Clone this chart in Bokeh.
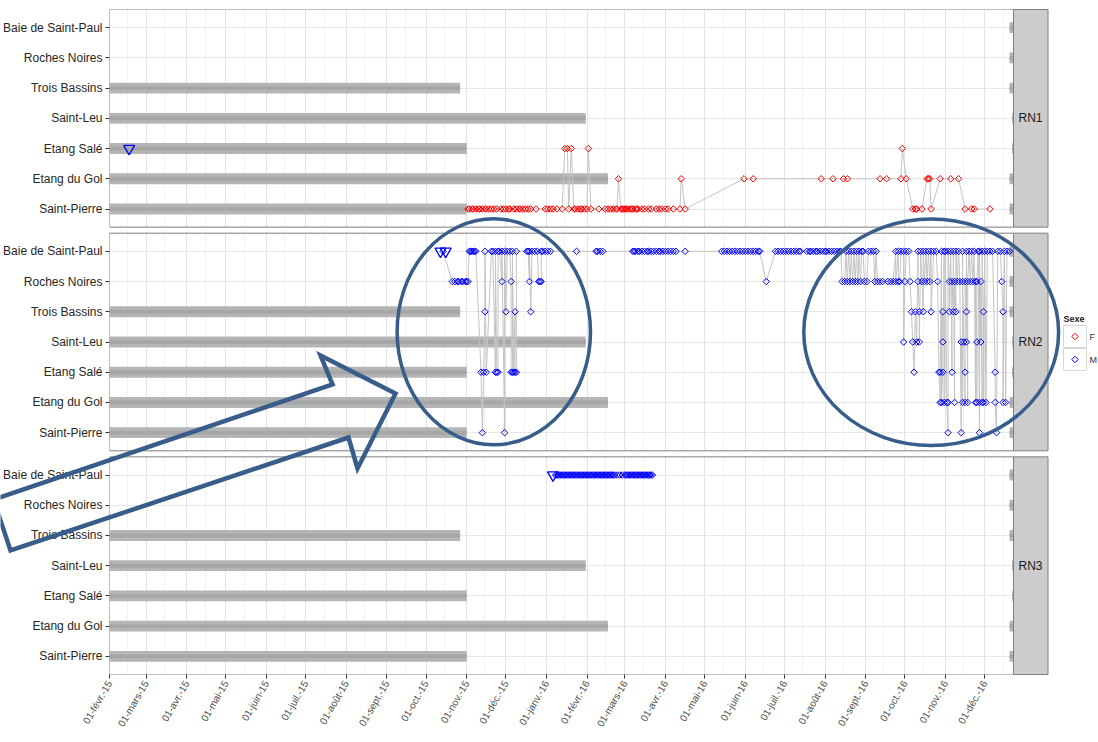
import numpy as np
import pandas as pd
from bokeh.plotting import figure
from bokeh.models import (Range1d, FixedTicker, BoxAnnotation)
from bokeh.core.properties import value
from bokeh.embed import file_html
from bokeh.resources import INLINE

# ---------------- data ----------------
station_codes = ["SP", "EG", "ES", "SL", "TB", "RN", "BSP"]
station_names = ["Saint-Pierre", "Etang du Gol", "Etang Salé", "Saint-Leu",
                 "Trois Bassins", "Roches Noires", "Baie de Saint-Paul"]
panels = ["RN1", "RN2", "RN3"]
sexes = {"RN1": "F", "RN2": "M", "RN3": "M"}
legend_title = "Sexe"
legend_labels = ["F", "M"]

# receiver deployment periods (drawn in every panel)
rcv_site = ["SP", "EG", "ES", "SL", "TB", "BSP", "RN", "TB", "EG", "SP", "SL", "ES"]
rcv_start = ["2015-01-01", "2015-01-01", "2015-01-01", "2015-01-01", "2015-01-01",
             "2016-12-20", "2016-12-20", "2016-12-20", "2016-12-20", "2016-12-20",
             "2016-12-22", "2016-12-22"]
rcv_end = ["2015-11-01", "2016-02-17", "2015-11-01", "2016-01-31", "2015-10-27",
           "2016-12-31", "2016-12-31", "2016-12-31", "2016-12-31", "2016-12-31",
           "2016-12-31", "2016-12-31"]

# tagging events (triangles)
tag_panel = ["RN1", "RN2", "RN2", "RN3"]
tag_site = ["ES", "BSP", "BSP", "BSP"]
tag_date = ["2015-02-16", "2015-10-12", "2015-10-16", "2016-01-06"]

rn1_obs = [
    ("SP", "2015-11-02"), ("SP", "2015-11-03"), ("SP", "2015-11-05"), ("SP", "2015-11-06"),
    ("SP", "2015-11-08"), ("SP", "2015-11-10"), ("SP", "2015-11-11"), ("SP", "2015-11-13"),
    ("SP", "2015-11-15"), ("SP", "2015-11-16"), ("SP", "2015-11-18"), ("SP", "2015-11-20"),
    ("SP", "2015-11-22"), ("SP", "2015-11-24"), ("SP", "2015-11-27"), ("SP", "2015-11-29"),
    ("SP", "2015-12-01"), ("SP", "2015-12-03"), ("SP", "2015-12-04"), ("SP", "2015-12-07"),
    ("SP", "2015-12-09"), ("SP", "2015-12-11"), ("SP", "2015-12-12"), ("SP", "2015-12-14"),
    ("SP", "2015-12-16"), ("SP", "2015-12-18"), ("SP", "2015-12-20"), ("SP", "2015-12-24"),
    ("SP", "2015-12-31"), ("SP", "2016-01-02"), ("SP", "2016-01-04"), ("SP", "2016-01-06"),
    ("SP", "2016-01-09"), ("SP", "2016-01-13"),
    ("ES", "2016-01-15"), ("ES", "2016-01-17"), ("SP", "2016-01-18"), ("ES", "2016-01-20"),
    ("SP", "2016-01-22"), ("SP", "2016-01-23"), ("SP", "2016-01-25"), ("SP", "2016-01-27"),
    ("SP", "2016-01-28"), ("SP", "2016-01-30"), ("SP", "2016-02-01"),
    ("ES", "2016-02-02"),
    ("SP", "2016-02-04"), ("SP", "2016-02-10"),
    ("SP", "2016-02-15"), ("SP", "2016-02-17"), ("SP", "2016-02-19"), ("SP", "2016-02-21"),
    ("SP", "2016-02-23"), ("SP", "2016-02-24"),
    ("EG", "2016-02-25"),
    ("SP", "2016-02-27"), ("SP", "2016-02-28"), ("SP", "2016-02-29"), ("SP", "2016-03-01"),
    ("SP", "2016-03-02"), ("SP", "2016-03-03"), ("SP", "2016-03-05"), ("SP", "2016-03-06"),
    ("SP", "2016-03-07"), ("SP", "2016-03-09"), ("SP", "2016-03-10"), ("SP", "2016-03-11"),
    ("SP", "2016-03-14"), ("SP", "2016-03-16"), ("SP", "2016-03-19"), ("SP", "2016-03-21"),
    ("SP", "2016-03-25"), ("SP", "2016-03-27"), ("SP", "2016-03-29"), ("SP", "2016-04-01"),
    ("SP", "2016-04-03"), ("SP", "2016-04-07"), ("SP", "2016-04-12"),
    ("EG", "2016-04-13"),
    ("SP", "2016-04-16"),
    ("EG", "2016-05-31"), ("EG", "2016-06-07"), ("EG", "2016-07-29"), ("EG", "2016-08-07"),
    ("EG", "2016-08-15"), ("EG", "2016-08-18"), ("EG", "2016-09-12"), ("EG", "2016-09-17"),
    ("EG", "2016-09-28"),
    ("ES", "2016-09-29"),
    ("EG", "2016-10-02"),
    ("SP", "2016-10-07"), ("SP", "2016-10-09"), ("SP", "2016-10-10"), ("SP", "2016-10-14"),
    ("EG", "2016-10-18"), ("EG", "2016-10-19"), ("EG", "2016-10-20"),
    ("SP", "2016-10-21"),
    ("EG", "2016-10-28"), ("EG", "2016-11-05"), ("EG", "2016-11-11"),
    ("SP", "2016-11-16"), ("SP", "2016-11-21"), ("SP", "2016-11-23"), ("SP", "2016-12-05"),
]

rn2_obs = [
    ("BSP", "2015-10-14"),
    ("RN", "2015-10-21"), ("RN", "2015-10-23"), ("RN", "2015-10-25"), ("RN", "2015-10-26"),
    ("RN", "2015-10-28"), ("RN", "2015-10-29"), ("RN", "2015-10-31"), ("RN", "2015-11-01"),
    ("RN", "2015-11-02"),
    ("BSP", "2015-11-03"), ("BSP", "2015-11-04"), ("BSP", "2015-11-05"), ("BSP", "2015-11-06"),
    ("BSP", "2015-11-07"), ("BSP", "2015-11-08"),
    ("ES", "2015-11-12"), ("SP", "2015-11-13"), ("ES", "2015-11-14"), ("TB", "2015-11-15"),
    ("BSP", "2015-11-15"), ("ES", "2015-11-16"),
    ("BSP", "2015-11-20"), ("BSP", "2015-11-21"), ("ES", "2015-11-23"), ("BSP", "2015-11-23"),
    ("ES", "2015-11-24"), ("ES", "2015-11-25"), ("BSP", "2015-11-25"), ("BSP", "2015-11-26"),
    ("RN", "2015-11-28"), ("BSP", "2015-11-28"), ("SP", "2015-11-30"), ("BSP", "2015-11-30"),
    ("TB", "2015-12-01"), ("BSP", "2015-12-02"), ("BSP", "2015-12-04"), ("RN", "2015-12-05"),
    ("ES", "2015-12-05"), ("ES", "2015-12-06"), ("BSP", "2015-12-06"), ("ES", "2015-12-07"),
    ("TB", "2015-12-08"), ("ES", "2015-12-08"), ("ES", "2015-12-09"), ("BSP", "2015-12-09"),
    ("BSP", "2015-12-17"), ("BSP", "2015-12-18"), ("RN", "2015-12-19"), ("BSP", "2015-12-19"),
    ("TB", "2015-12-20"), ("BSP", "2015-12-21"), ("BSP", "2015-12-23"), ("BSP", "2015-12-25"),
    ("RN", "2015-12-26"), ("RN", "2015-12-27"), ("RN", "2015-12-28"), ("BSP", "2015-12-28"),
    ("BSP", "2015-12-29"), ("BSP", "2015-12-31"), ("BSP", "2016-01-02"), ("BSP", "2016-01-04"),
    ("BSP", "2016-01-24"),
    ("BSP", "2016-02-08"), ("BSP", "2016-02-09"), ("BSP", "2016-02-11"), ("BSP", "2016-02-13"),
    ("BSP", "2016-03-07"), ("BSP", "2016-03-08"), ("BSP", "2016-03-09"), ("BSP", "2016-03-11"),
    ("BSP", "2016-03-12"), ("BSP", "2016-03-14"), ("BSP", "2016-03-16"), ("BSP", "2016-03-18"),
    ("BSP", "2016-03-19"), ("BSP", "2016-03-21"), ("BSP", "2016-03-23"), ("BSP", "2016-03-25"),
    ("BSP", "2016-03-27"), ("BSP", "2016-03-28"), ("BSP", "2016-03-30"), ("BSP", "2016-04-01"),
    ("BSP", "2016-04-03"), ("BSP", "2016-04-05"), ("BSP", "2016-04-07"), ("BSP", "2016-04-09"),
    ("BSP", "2016-04-16"),
    ("BSP", "2016-05-14"), ("BSP", "2016-05-16"), ("BSP", "2016-05-18"), ("BSP", "2016-05-20"),
    ("BSP", "2016-05-22"), ("BSP", "2016-05-24"), ("BSP", "2016-05-26"), ("BSP", "2016-05-28"),
    ("BSP", "2016-05-30"), ("BSP", "2016-06-01"), ("BSP", "2016-06-03"), ("BSP", "2016-06-05"),
    ("BSP", "2016-06-07"), ("BSP", "2016-06-09"), ("BSP", "2016-06-11"), ("BSP", "2016-06-12"),
    ("RN", "2016-06-17"),
    ("BSP", "2016-06-24"), ("BSP", "2016-06-26"), ("BSP", "2016-06-28"), ("BSP", "2016-06-30"),
    ("BSP", "2016-07-02"), ("BSP", "2016-07-04"), ("BSP", "2016-07-06"), ("BSP", "2016-07-08"),
    ("BSP", "2016-07-10"), ("BSP", "2016-07-12"), ("BSP", "2016-07-13"),
    ("BSP", "2016-07-18"), ("BSP", "2016-07-20"), ("BSP", "2016-07-21"), ("BSP", "2016-07-23"),
    ("BSP", "2016-07-25"), ("BSP", "2016-07-26"), ("BSP", "2016-07-28"), ("BSP", "2016-07-30"),
    ("BSP", "2016-08-01"), ("BSP", "2016-08-02"), ("BSP", "2016-08-04"), ("BSP", "2016-08-06"),
    ("BSP", "2016-08-08"), ("BSP", "2016-08-10"), ("BSP", "2016-08-12"), ("BSP", "2016-08-13"),
    ("RN", "2016-08-14"), ("RN", "2016-08-16"), ("BSP", "2016-08-17"), ("RN", "2016-08-18"),
    ("BSP", "2016-08-19"), ("RN", "2016-08-20"), ("BSP", "2016-08-21"), ("RN", "2016-08-22"),
    ("BSP", "2016-08-23"), ("RN", "2016-08-24"), ("BSP", "2016-08-25"), ("RN", "2016-08-26"),
    ("BSP", "2016-08-27"), ("RN", "2016-08-28"), ("BSP", "2016-08-29"), ("BSP", "2016-08-30"),
    ("RN", "2016-08-31"), ("RN", "2016-09-02"), ("BSP", "2016-09-03"), ("BSP", "2016-09-05"),
    ("BSP", "2016-09-07"), ("RN", "2016-09-08"), ("BSP", "2016-09-09"), ("RN", "2016-09-10"),
    ("RN", "2016-09-12"), ("RN", "2016-09-14"), ("RN", "2016-09-18"), ("RN", "2016-09-20"),
    ("RN", "2016-09-22"), ("BSP", "2016-09-24"), ("RN", "2016-09-24"), ("BSP", "2016-09-26"),
    ("RN", "2016-09-26"), ("RN", "2016-09-27"), ("BSP", "2016-09-28"), ("BSP", "2016-09-30"),
    ("SL", "2016-09-30"), ("RN", "2016-10-01"), ("BSP", "2016-10-02"), ("BSP", "2016-10-04"),
    ("RN", "2016-10-05"), ("TB", "2016-10-06"), ("SL", "2016-10-07"), ("ES", "2016-10-08"),
    ("TB", "2016-10-09"), ("SL", "2016-10-10"), ("BSP", "2016-10-11"), ("RN", "2016-10-11"),
    ("TB", "2016-10-12"), ("SL", "2016-10-12"), ("BSP", "2016-10-13"), ("RN", "2016-10-14"),
    ("TB", "2016-10-15"), ("BSP", "2016-10-15"), ("RN", "2016-10-16"), ("BSP", "2016-10-17"),
    ("RN", "2016-10-18"), ("BSP", "2016-10-19"), ("RN", "2016-10-20"), ("BSP", "2016-10-21"),
    ("TB", "2016-10-21"), ("BSP", "2016-10-23"), ("BSP", "2016-10-25"), ("RN", "2016-10-26"),
    ("ES", "2016-10-27"), ("EG", "2016-10-28"), ("ES", "2016-10-28"), ("BSP", "2016-10-29"),
    ("EG", "2016-10-29"), ("ES", "2016-10-30"), ("TB", "2016-10-30"), ("SL", "2016-10-30"),
    ("BSP", "2016-10-31"), ("EG", "2016-10-31"), ("BSP", "2016-11-01"), ("EG", "2016-11-02"),
    ("SP", "2016-11-03"), ("EG", "2016-11-03"), ("BSP", "2016-11-03"), ("RN", "2016-11-04"),
    ("TB", "2016-11-04"), ("BSP", "2016-11-05"), ("ES", "2016-11-06"), ("RN", "2016-11-06"),
    ("TB", "2016-11-07"), ("BSP", "2016-11-07"), ("EG", "2016-11-08"), ("RN", "2016-11-08"),
    ("TB", "2016-11-09"), ("BSP", "2016-11-09"), ("RN", "2016-11-10"), ("BSP", "2016-11-11"),
    ("RN", "2016-11-12"), ("SP", "2016-11-13"), ("SL", "2016-11-13"), ("EG", "2016-11-14"),
    ("BSP", "2016-11-14"), ("RN", "2016-11-14"), ("SL", "2016-11-15"), ("EG", "2016-11-16"),
    ("ES", "2016-11-16"), ("RN", "2016-11-16"), ("TB", "2016-11-17"), ("SL", "2016-11-17"),
    ("BSP", "2016-11-17"), ("EG", "2016-11-18"), ("RN", "2016-11-18"), ("BSP", "2016-11-19"),
    ("RN", "2016-11-20"), ("BSP", "2016-11-21"), ("RN", "2016-11-22"), ("BSP", "2016-11-23"),
    ("EG", "2016-11-24"), ("RN", "2016-11-24"), ("SL", "2016-11-25"), ("EG", "2016-11-25"),
    ("RN", "2016-11-25"), ("BSP", "2016-11-26"), ("SP", "2016-11-27"), ("EG", "2016-11-27"),
    ("BSP", "2016-11-27"), ("SL", "2016-11-28"), ("RN", "2016-11-28"), ("EG", "2016-11-29"),
    ("BSP", "2016-11-29"), ("TB", "2016-11-30"), ("EG", "2016-11-30"), ("BSP", "2016-12-01"),
    ("EG", "2016-12-02"), ("BSP", "2016-12-03"), ("BSP", "2016-12-05"), ("BSP", "2016-12-07"),
    ("ES", "2016-12-09"), ("EG", "2016-12-09"), ("SP", "2016-12-10"), ("BSP", "2016-12-11"),
    ("BSP", "2016-12-13"), ("RN", "2016-12-14"), ("TB", "2016-12-15"), ("EG", "2016-12-15"),
    ("BSP", "2016-12-16"), ("EG", "2016-12-17"), ("BSP", "2016-12-18"), ("BSP", "2016-12-20"),
]

rn3_obs = [
    ("BSP", "2016-01-08"), ("BSP", "2016-01-09"), ("BSP", "2016-01-10"), ("BSP", "2016-01-11"),
    ("BSP", "2016-01-12"), ("BSP", "2016-01-13"), ("BSP", "2016-01-14"), ("BSP", "2016-01-15"),
    ("BSP", "2016-01-16"), ("BSP", "2016-01-17"), ("BSP", "2016-01-18"), ("BSP", "2016-01-19"),
    ("BSP", "2016-01-20"), ("BSP", "2016-01-21"), ("BSP", "2016-01-22"), ("BSP", "2016-01-23"),
    ("BSP", "2016-01-24"), ("BSP", "2016-01-25"), ("BSP", "2016-01-26"), ("BSP", "2016-01-27"),
    ("BSP", "2016-01-28"), ("BSP", "2016-01-29"), ("BSP", "2016-01-30"), ("BSP", "2016-01-31"),
    ("BSP", "2016-02-01"), ("BSP", "2016-02-02"), ("BSP", "2016-02-03"), ("BSP", "2016-02-04"),
    ("BSP", "2016-02-05"), ("BSP", "2016-02-06"), ("BSP", "2016-02-07"), ("BSP", "2016-02-08"),
    ("BSP", "2016-02-09"), ("BSP", "2016-02-10"), ("BSP", "2016-02-11"), ("BSP", "2016-02-12"),
    ("BSP", "2016-02-13"), ("BSP", "2016-02-14"), ("BSP", "2016-02-15"), ("BSP", "2016-02-16"),
    ("BSP", "2016-02-17"), ("BSP", "2016-02-18"), ("BSP", "2016-02-19"), ("BSP", "2016-02-20"),
    ("BSP", "2016-02-21"), ("BSP", "2016-02-22"), ("BSP", "2016-02-24"), ("BSP", "2016-02-26"),
    ("BSP", "2016-02-28"), ("BSP", "2016-03-01"), ("BSP", "2016-03-02"), ("BSP", "2016-03-03"),
    ("BSP", "2016-03-04"), ("BSP", "2016-03-05"), ("BSP", "2016-03-06"), ("BSP", "2016-03-07"),
    ("BSP", "2016-03-08"), ("BSP", "2016-03-09"), ("BSP", "2016-03-10"), ("BSP", "2016-03-11"),
    ("BSP", "2016-03-12"), ("BSP", "2016-03-13"), ("BSP", "2016-03-14"), ("BSP", "2016-03-15"),
    ("BSP", "2016-03-16"), ("BSP", "2016-03-17"), ("BSP", "2016-03-18"), ("BSP", "2016-03-19"),
    ("BSP", "2016-03-20"), ("BSP", "2016-03-21"), ("BSP", "2016-03-22"),
]
observations = {"RN1": rn1_obs, "RN2": rn2_obs, "RN3": rn3_obs}

month_ticks = ["2015-02-01", "2015-03-01", "2015-04-01", "2015-05-01", "2015-06-01",
               "2015-07-01", "2015-08-01", "2015-09-01", "2015-10-01", "2015-11-01",
               "2015-12-01", "2016-01-01", "2016-02-01", "2016-03-01", "2016-04-01",
               "2016-05-01", "2016-06-01", "2016-07-01", "2016-08-01", "2016-09-01",
               "2016-10-01", "2016-11-01", "2016-12-01"]
month_labels = ["01-févr.-15", "01-mars-15", "01-avr.-15", "01-mai-15", "01-juin-15",
                "01-juil.-15", "01-août-15", "01-sept.-15", "01-oct.-15", "01-nov.-15",
                "01-déc.-15", "01-janv.-16", "01-févr.-16", "01-mars-16", "01-avr.-16",
                "01-mai-16", "01-juin-16", "01-juil.-16", "01-août-16", "01-sept.-16",
                "01-oct.-16", "01-nov.-16", "01-déc.-16"]
x_start, x_end = "2015-02-01", "2016-12-23"

# ---------------- layout constants ----------------
W, H = 1098, 742
FL, FR, FT, FB = 108, 1013, 9, 674        # frame in page pixels
PANEL_STEP = 7.4                          # 7 rows + 0.6 expansion each side + gap
PAD = 0.6
offset = {"RN1": 2 * PANEL_STEP, "RN2": PANEL_STEP, "RN3": 0.0}
sidx = {c: i for i, c in enumerate(station_codes)}
Y0, Y1 = -PAD, 2 * PANEL_STEP + 6 + PAD

def ms(d):
    return pd.Timestamp(d).value / 1e6

XS, XE = ms(x_start), ms(x_end)

def page_y(yv):
    return FT + (Y1 - yv) / (Y1 - Y0) * (FB - FT)

FONT = "Liberation Sans"
RED, BLUE = "#FF0000", "#0000FF"
NAVY = "#385D8A"
sex_color = {"F": RED, "M": BLUE}

p = figure(width=W, height=H, x_axis_type="datetime", title=None,
           x_range=Range1d(XS, XE), y_range=Range1d(Y0, Y1),
           output_backend="svg", toolbar_location=None,
           min_border_left=FL, min_border_right=W - FR, min_border_top=FT,
           min_border_bottom=H - FB, outline_line_color=None,
           background_fill_color="white", border_fill_color="white")

# axes
ytick_vals, ytick_over = [], {}
for pn in panels:
    for i, name in enumerate(station_names):
        v = offset[pn] + i
        ytick_vals.append(v)
        ytick_over[v] = name
p.yaxis.ticker = FixedTicker(ticks=ytick_vals)
p.yaxis.major_label_overrides = ytick_over
p.yaxis.axis_line_color = None
p.yaxis.major_tick_out = 4
p.yaxis.major_tick_in = 0
p.yaxis.major_tick_line_color = "#333333"
p.yaxis.minor_tick_line_color = None
p.yaxis.major_label_text_font = FONT
p.yaxis.major_label_text_font_size = "12px"
p.yaxis.major_label_text_color = "#262626"
p.yaxis.major_label_standoff = 3

mt = [ms(d) for d in month_ticks]
minor = [v + 14 * 86400000 for v in mt]
xt = FixedTicker(ticks=mt, minor_ticks=minor)
p.xaxis.ticker = xt
p.xaxis.major_label_overrides = {v: l for v, l in zip(mt, month_labels)}
p.xaxis.major_label_orientation = np.pi / 3
p.xaxis.axis_line_color = None
p.xaxis.major_tick_out = 4
p.xaxis.major_tick_in = 0
p.xaxis.major_tick_line_color = "#333333"
p.xaxis.minor_tick_line_color = None
p.xaxis.major_label_text_font = FONT
p.xaxis.major_label_text_font_size = "10px"
p.xaxis.major_label_text_color = "#4D4D4D"
p.xaxis.major_label_standoff = 3

p.xgrid.ticker = xt
p.xgrid.grid_line_color = "#E3E3E3"
p.xgrid.minor_grid_line_color = "#F2F2F2"
p.ygrid.ticker = FixedTicker(ticks=ytick_vals)
p.ygrid.grid_line_color = "#E8E8E8"

# receiver bars
for pn in panels:
    ys = [offset[pn] + sidx[s] for s in rcv_site]
    left = pd.to_datetime(rcv_start)
    right = pd.to_datetime(rcv_end)
    p.hbar(y=ys, left=left, right=right, height=0.36, fill_color="#B5B5B5",
           line_color=None)
    p.hbar(y=ys, left=left, right=right, height=0.13, fill_color="#A7A7A7",
           line_color=None)

# detection paths and points
for pn in panels:
    obs = observations[pn]
    xs = pd.to_datetime([o[1] for o in obs])
    ys = [offset[pn] + sidx[o[0]] for o in obs]
    p.line(xs, ys, line_color="#C4C4C4", line_width=1)
    p.scatter(xs, ys, marker="square", angle=np.pi / 4, size=4.6,
              fill_color=None, line_color=sex_color[sexes[pn]], line_width=1)

tx = pd.to_datetime(tag_date)
ty = [offset[pn] + sidx[s] for pn, s in zip(tag_panel, tag_site)]
p.scatter(tx, ty, marker="inverted_triangle", size=11, fill_color=None,
          line_color=BLUE, line_width=1.3)

# panel gaps and borders
for upper, lower in [("RN1", "RN2"), ("RN2", "RN3")]:
    p.add_layout(BoxAnnotation(bottom=offset[lower] + 6 + PAD, top=offset[upper] - PAD,
                               fill_color="white", fill_alpha=1, line_color=None))
for pn in panels:
    b, t = offset[pn] - PAD, offset[pn] + 6 + PAD
    p.add_layout(BoxAnnotation(left=XS, right=XE, bottom=b, top=t, fill_alpha=0,
                               line_color="#7F7F7F", line_alpha=1, line_width=1))

# ------------- overlay in page pixels: strips, legend, hand-drawn marks -------------
q = figure(width=W, height=H, x_range=Range1d(0, W), y_range=Range1d(H, 0),
           output_backend="svg", toolbar_location=None, title=None,
           x_axis_location=None, y_axis_location=None, min_border=0,
           outline_line_color=None, background_fill_alpha=0, border_fill_alpha=0,
           styles={"position": "absolute", "top": "0px", "left": "0px", "z-index": "5"})
q.grid.visible = False

sb = [page_y(offset[pn] - PAD) for pn in panels]
st = [page_y(offset[pn] + 6 + PAD) for pn in panels]
q.quad(left=[FR] * 3, right=[1047.5] * 3, top=st, bottom=sb, fill_color="#CCCCCC",
       line_color="#7F7F7F", line_width=1)
q.text(x=[1018] * 3, y=[(a + b) / 2 for a, b in zip(st, sb)], text=panels,
       text_font=value(FONT), text_font_size="12px", text_color="#1A1A1A",
       text_baseline="middle", text_align="left")

# legend (Sexe)
key_top = [325, 348]
q.quad(left=[1063, 1063], right=[1086, 1086], top=key_top, bottom=[k + 22 for k in key_top],
       fill_color="white", line_color="#D6D6D6", line_width=1)
q.scatter(x=[1074.5, 1074.5], y=[k + 11 for k in key_top], marker="square",
          angle=np.pi / 4, size=4.6, fill_color=None,
          line_color=[sex_color[s] for s in legend_labels], line_width=1)
q.text(x=[1063], y=[318], text=[legend_title], text_font=value(FONT),
       text_font_size="9px", text_font_style="bold", text_color="#1A1A1A",
       text_baseline="middle", text_align="left")
q.text(x=[1089, 1089], y=[k + 11 for k in key_top], text=legend_labels,
       text_font=value(FONT), text_font_size="9px", text_color="#333333",
       text_baseline="middle", text_align="left")

# arrow and ellipses drawn over the chart
arrow_x = [-7, 332, 320, 395, 357, 348, 10]
arrow_y = [499, 384, 355, 393, 468, 437, 550]
q.patch(arrow_x, arrow_y, fill_alpha=0, line_color=NAVY, line_width=4.5,
        line_join="miter")
q.ellipse(x=[493.3, 930.7], y=[331.3, 331.7], width=[193.4, 254.8], height=[226, 226.6],
          fill_color=None, line_color=NAVY, line_width=3.5)

open("out.html", "w").write(file_html([p, q], INLINE))
